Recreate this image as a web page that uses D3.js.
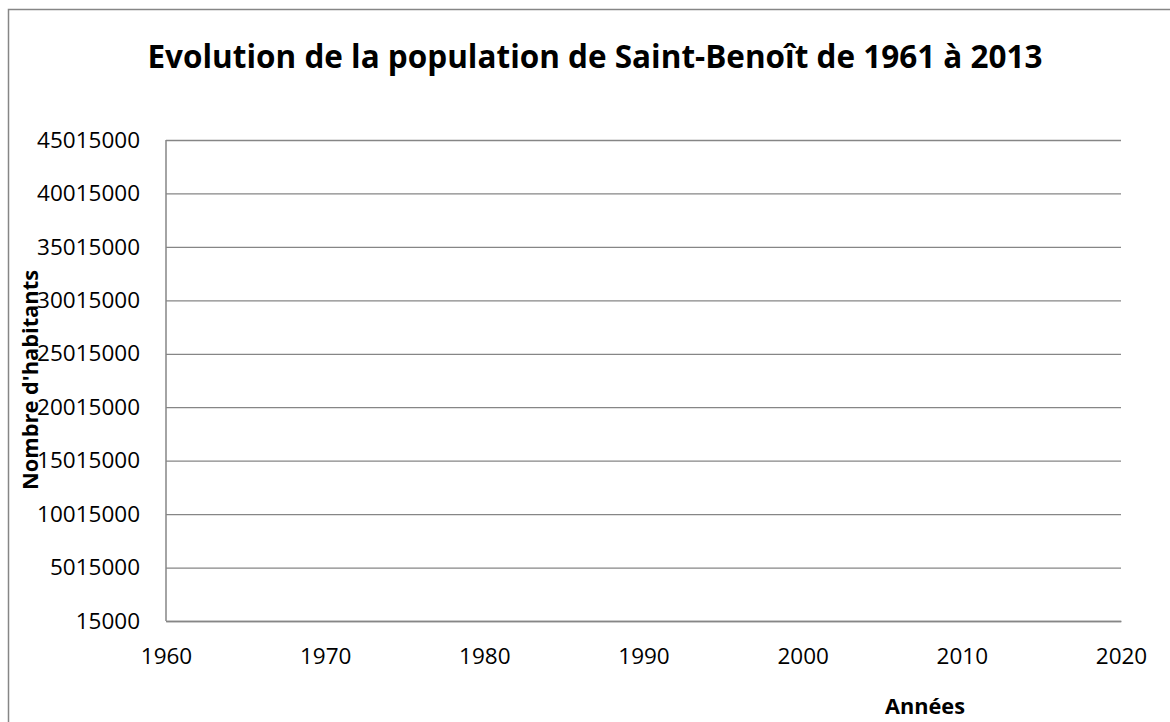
<!DOCTYPE html>
<html>
<head>
<meta charset="utf-8">
<script src="https://cdn.jsdelivr.net/npm/d3@7"></script>
<style>
  html, body { margin: 0; padding: 0; background: #fff; }
  svg { display: block; }
  text { font-family: "Open Sans", "Liberation Sans", sans-serif; fill: #000; }
</style>
</head>
<body>
<script>
// ---- data (no series is visible in the reference chart) ----
const title = "Evolution de la population de Saint-Benoît de 1961 à 2013";
const xTitle = "Années";
const yTitle = "Nombre d'habitants";
const years = [];        // no plotted points visible
const population = [];   // no plotted points visible
const yTicks = [15000, 5015000, 10015000, 15015000, 20015000, 25015000, 30015000, 35015000, 40015000, 45015000];
const xTicks = [1960, 1970, 1980, 1990, 2000, 2010, 2020];

const W = 1170, H = 722;
const svg = d3.select("body").append("svg").attr("width", W).attr("height", H);

// outer chart border (runs off right/bottom as in reference)
svg.append("rect").attr("x", 8.5).attr("y", 9.5).attr("width", W).attr("height", H)
  .attr("fill", "none").attr("stroke", "#868686").attr("stroke-width", 1.5);

const plot = { left: 166, right: 1121, top: 140, bottom: 621 };
const x = d3.scaleLinear().domain([1960, 2020]).range([plot.left, plot.right]);
const y = d3.scaleLinear().domain([15000, 45015000]).range([plot.bottom, plot.top]);

function fitWidth(sel, target) {
  const fs = parseFloat(sel.attr("font-size"));
  const w = sel.node().getComputedTextLength();
  sel.attr("font-size", (fs * target / w).toFixed(2));
}

// gridlines + y axis
const yAxis = svg.append("g").attr("transform", `translate(${plot.left},0)`)
  .call(d3.axisLeft(y).tickValues(yTicks).tickSize(-(plot.right - plot.left)).tickPadding(26).tickFormat(d3.format("d")));
yAxis.selectAll(".tick line").attr("stroke", "#868686").attr("stroke-width", 1.3);
yAxis.select(".domain").remove();
yAxis.selectAll(".tick text").attr("font-size", 22.5).attr("font-family", "'Open Sans', sans-serif").attr("fill", "#000");

// left axis line
svg.append("line").attr("x1", plot.left).attr("x2", plot.left).attr("y1", plot.top).attr("y2", plot.bottom)
  .attr("stroke", "#868686").attr("stroke-width", 1.5);

// x axis
const xAxis = svg.append("g").attr("transform", `translate(0,${plot.bottom})`)
  .call(d3.axisBottom(x).tickValues(xTicks).tickSize(0).tickPadding(27).tickFormat(d3.format("d")));
xAxis.select(".domain").attr("stroke", "#868686").attr("stroke-width", 1.5);
xAxis.selectAll(".tick text").attr("font-size", 22.5).attr("font-family", "'Open Sans', sans-serif").attr("fill", "#000");

// (empty) series line drawn from data
const line = d3.line().x((d, i) => x(years[i])).y(d => y(d));
svg.append("path").datum(population).attr("d", population.length ? line(population) : null)
  .attr("fill", "none").attr("stroke", "#4a7ebb").attr("stroke-width", 2);

// title
const t = svg.append("text").attr("x", 595).attr("y", 68).attr("text-anchor", "middle")
  .attr("font-size", 30).attr("font-weight", "bold").text(title);
fitWidth(t, 895);

// axis titles
const xt = svg.append("text").attr("x", 925).attr("y", 714).attr("text-anchor", "middle")
  .attr("font-size", 22).attr("font-weight", "bold").text(xTitle);
fitWidth(xt, 80);

const yt = svg.append("text").attr("transform", "translate(38,380) rotate(-90)").attr("text-anchor", "middle")
  .attr("font-size", 20).attr("font-weight", "bold").text(yTitle);
fitWidth(yt, 220);
</script>
</body>
</html>
